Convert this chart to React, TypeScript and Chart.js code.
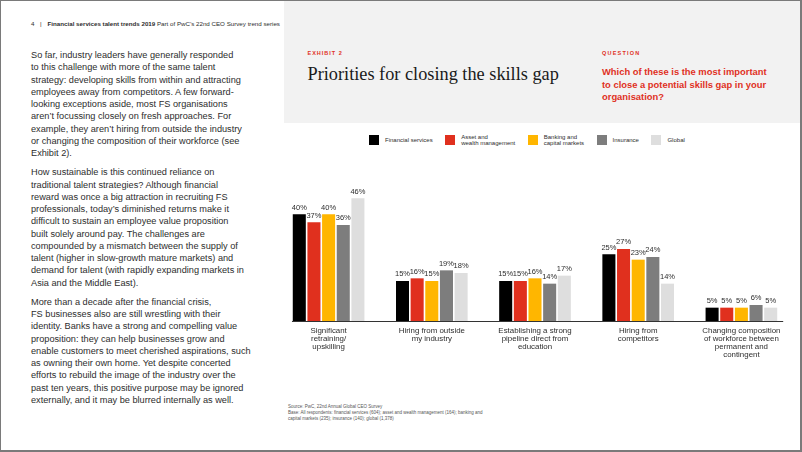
import React, { useEffect, useRef } from "react";
import { Chart, registerables } from "chart.js";

Chart.register(...registerables);

// ---------- data ----------
const categories: string[][] = [
  ["Significant", "retraining/", "upskilling"],
  ["Hiring from outside", "my industry"],
  ["Establishing a strong", "pipeline direct from", "education"],
  ["Hiring from", "competitors"],
  ["Changing composition", "of workforce between", "permanent and", "contingent"],
];
const seriesNames: string[][] = [
  ["Financial services"],
  ["Asset and", "wealth management"],
  ["Banking and", "capital markets"],
  ["Insurance"],
  ["Global"],
];
const seriesColors = ["#000000", "#E0301E", "#FFB600", "#7D7D7D", "#DEDEDE"];
const financialServices = [40, 15, 15, 25, 5];
const assetWealth = [37, 16, 15, 27, 5];
const bankingCapital = [40, 15, 16, 23, 5];
const insurance = [36, 19, 14, 24, 6];
const globalValues = [46, 18, 17, 14, 5];
const seriesValues = [financialServices, assetWealth, bankingCapital, insurance, globalValues];

const headerNumber = "4";
const headerBold = "Financial services talent trends 2019";
const headerRest = "Part of PwC\u2019s 22nd CEO Survey trend series";
const exhibitLabel = "EXHIBIT 2";
const exhibitTitle = "Priorities for closing the skills gap";
const questionLabel = "QUESTION";
const questionLines = [
  "Which of these is the most important",
  "to close a potential skills gap in your",
  "organisation?",
];
const paragraphs: string[][] = [
  [
    "So far, industry leaders have generally responded",
    "to this challenge with more of the same talent",
    "strategy: developing skills from within and attracting",
    "employees away from competitors. A few forward-",
    "looking exceptions aside, most FS organisations",
    "aren\u2019t focussing closely on fresh approaches. For",
    "example, they aren\u2019t hiring from outside the industry",
    "or changing the composition of their workforce (see",
    "Exhibit 2).",
  ],
  [
    "How sustainable is this continued reliance on",
    "traditional talent strategies? Although financial",
    "reward was once a big attraction in recruiting FS",
    "professionals, today\u2019s diminished returns make it",
    "difficult to sustain an employee value proposition",
    "built solely around pay. The challenges are",
    "compounded by a mismatch between the supply of",
    "talent (higher in slow-growth mature markets) and",
    "demand for talent (with rapidly expanding markets in",
    "Asia and the Middle East).",
  ],
  [
    "More than a decade after the financial crisis,",
    "FS businesses also are still wrestling with their",
    "identity. Banks have a strong and compelling value",
    "proposition: they can help businesses grow and",
    "enable customers to meet cherished aspirations, such",
    "as owning their own home. Yet despite concerted",
    "efforts to rebuild the image of the industry over the",
    "past ten years, this positive purpose may be ignored",
    "externally, and it may be blurred internally as well.",
  ],
];
const sourceLines = [
  "Source: PwC, 22nd Annual Global CEO Survey",
  "Base: All respondents: financial services (604); asset and wealth management (164); banking and",
  "capital markets (235); insurance (140); global (1,378)",
];

const SANS = "'Liberation Sans', Arial, Helvetica, sans-serif";
const SERIF = "'Liberation Serif', 'Times New Roman', serif";
const TEXT = "#2d2d2d";
const RED = "#E0301E";

const valueLabels = {
  id: "valueLabels",
  afterDatasetsDraw(chart: any) {
    const ctx = chart.ctx;
    ctx.save();
    ctx.font = `7.5px ${SANS}`;
    ctx.fillStyle = TEXT;
    ctx.textAlign = "center";
    ctx.textBaseline = "bottom";
    chart.data.datasets.forEach((ds: any, i: number) => {
      const meta = chart.getDatasetMeta(i);
      meta.data.forEach((bar: any, j: number) => {
        ctx.fillText(`${ds.data[j]}%`, bar.x, bar.y - 3);
      });
    });
    ctx.restore();
  },
};

const axisLine = {
  id: "axisLine",
  afterDatasetsDraw(chart: any) {
    const xs = chart.scales.x;
    const ys = chart.scales.y;
    const n = chart.data.labels.length;
    const pitch = xs.getPixelForValue(1) - xs.getPixelForValue(0);
    const left = xs.getPixelForValue(0) - pitch * 0.355;
    const right = xs.getPixelForValue(n - 1) + pitch * 0.405;
    const y = Math.round(ys.getPixelForValue(0)) + 0.5;
    const ctx = chart.ctx;
    ctx.save();
    ctx.strokeStyle = "#333333";
    ctx.lineWidth = 1;
    ctx.beginPath();
    ctx.moveTo(left, y);
    ctx.lineTo(right, y);
    ctx.stroke();
    ctx.restore();
  },
};

function BarChart() {
  const ref = useRef<HTMLCanvasElement | null>(null);
  useEffect(() => {
    if (!ref.current) return;
    const chart = new Chart(ref.current, {
      type: "bar",
      data: {
        labels: categories,
        datasets: seriesValues.map((vals, i) => ({
          label: seriesNames[i].join(" "),
          data: vals,
          backgroundColor: seriesColors[i],
          borderWidth: 0,
          categoryPercentage: 0.71,
          barPercentage: 0.89,
        })),
      },
      options: {
        animation: false,
        responsive: false,
        maintainAspectRatio: false,
        layout: { padding: 0 },
        plugins: { legend: { display: false }, tooltip: { enabled: false } },
        scales: {
          x: {
            grid: { display: false, drawTicks: false },
            border: { display: false },
            ticks: {
              color: TEXT,
              font: { size: 7.9, family: SANS, lineHeight: 1.02 },
              padding: 6,
              maxRotation: 0,
              autoSkip: false,
            },
            afterFit: (s: any) => {
              s.height = 60;
            },
          },
          y: { display: false, min: 0, max: 52.5 },
        },
      } as any,
      plugins: [valueLabels, axisLine],
    });
    return () => chart.destroy();
  }, []);
  return (
    <canvas
      ref={ref}
      width={516}
      height={200}
      style={{ position: "absolute", left: 276, top: 180, width: 516, height: 200 }}
    />
  );
}

export default function App() {
  useEffect(() => {
    document.body.style.margin = "0";
  }, []);
  return (
    <div
      style={{
        position: "fixed",
        left: 0,
        top: 0,
        width: 802,
        height: 452,
        boxSizing: "border-box",
        borderLeft: "1px solid #7a7a7a",
        borderTop: "1px solid #7a7a7a",
        borderRight: "2px solid #7a7a7a",
        borderBottom: "2px solid #7a7a7a",
        background: "#ffffff",
        fontFamily: SANS,
        color: TEXT,
        overflow: "hidden",
      }}
    >
      {/* grey title panel */}
      <div
        style={{
          position: "absolute",
          left: 283,
          top: 0,
          right: 0,
          height: 122,
          background: "#f2f2f2",
        }}
      />
      {/* running header */}
      <div
        style={{
          position: "absolute",
          left: 30,
          top: 20.4,
          fontSize: 6.2,
          lineHeight: "6.2px",
          whiteSpace: "nowrap",
        }}
      >
        <span>{headerNumber}</span>
        <span style={{ margin: "0 6px 0 5.5px" }}>|</span>
        <span style={{ fontWeight: 700 }}>{headerBold}</span>
        <span> {headerRest}</span>
      </div>
      {/* body text */}
      <div style={{ position: "absolute", left: 30, top: 48, fontSize: 9.2, lineHeight: "12.25px" }}>
        {paragraphs.map((p, i) => (
          <div key={i} style={{ marginBottom: 7 }}>
            {p.map((l, j) => (
              <div key={j} style={{ whiteSpace: "nowrap" }}>
                {l}
              </div>
            ))}
          </div>
        ))}
      </div>
      {/* exhibit */}
      <div
        style={{
          position: "absolute",
          left: 306.5,
          top: 50.3,
          fontSize: 5.5,
          lineHeight: "5.5px",
          fontWeight: 700,
          letterSpacing: 1,
          color: RED,
          whiteSpace: "nowrap",
        }}
      >
        {exhibitLabel}
      </div>
      <div
        style={{
          position: "absolute",
          left: 306.5,
          top: 63.7,
          fontFamily: SERIF,
          fontSize: 18.3,
          lineHeight: "18.3px",
          color: "#1a1a1a",
          whiteSpace: "nowrap",
        }}
      >
        {exhibitTitle}
      </div>
      <div
        style={{
          position: "absolute",
          left: 601,
          top: 50.3,
          fontSize: 5.5,
          lineHeight: "5.5px",
          fontWeight: 700,
          letterSpacing: 1.2,
          color: RED,
          whiteSpace: "nowrap",
        }}
      >
        {questionLabel}
      </div>
      <div
        style={{
          position: "absolute",
          left: 601,
          top: 64.8,
          fontSize: 9.4,
          lineHeight: "12.8px",
          fontWeight: 700,
          color: RED,
          whiteSpace: "nowrap",
        }}
      >
        {questionLines.map((l, i) => (
          <div key={i}>{l}</div>
        ))}
      </div>
      {/* legend */}
      <div
        style={{
          position: "absolute",
          left: 368,
          top: 134,
          height: 10,
          display: "flex",
          alignItems: "center",
          columnGap: 12.5,
        }}
      >
        {seriesNames.map((name, i) => (
          <div key={i} style={{ display: "flex", alignItems: "center", columnGap: 6 }}>
            <div style={{ width: 10, height: 10, background: seriesColors[i] }} />
            <div style={{ fontSize: 6, lineHeight: "6px", whiteSpace: "nowrap" }}>
              {name.map((l, j) => (
                <div key={j}>{l}</div>
              ))}
            </div>
          </div>
        ))}
      </div>
      <BarChart />
      {/* source */}
      <div
        style={{
          position: "absolute",
          left: 287,
          top: 402.5,
          fontSize: 4.5,
          lineHeight: "6.2px",
          color: "#555",
          whiteSpace: "nowrap",
        }}
      >
        {sourceLines.map((l, i) => (
          <div key={i}>{l}</div>
        ))}
      </div>
    </div>
  );
}
